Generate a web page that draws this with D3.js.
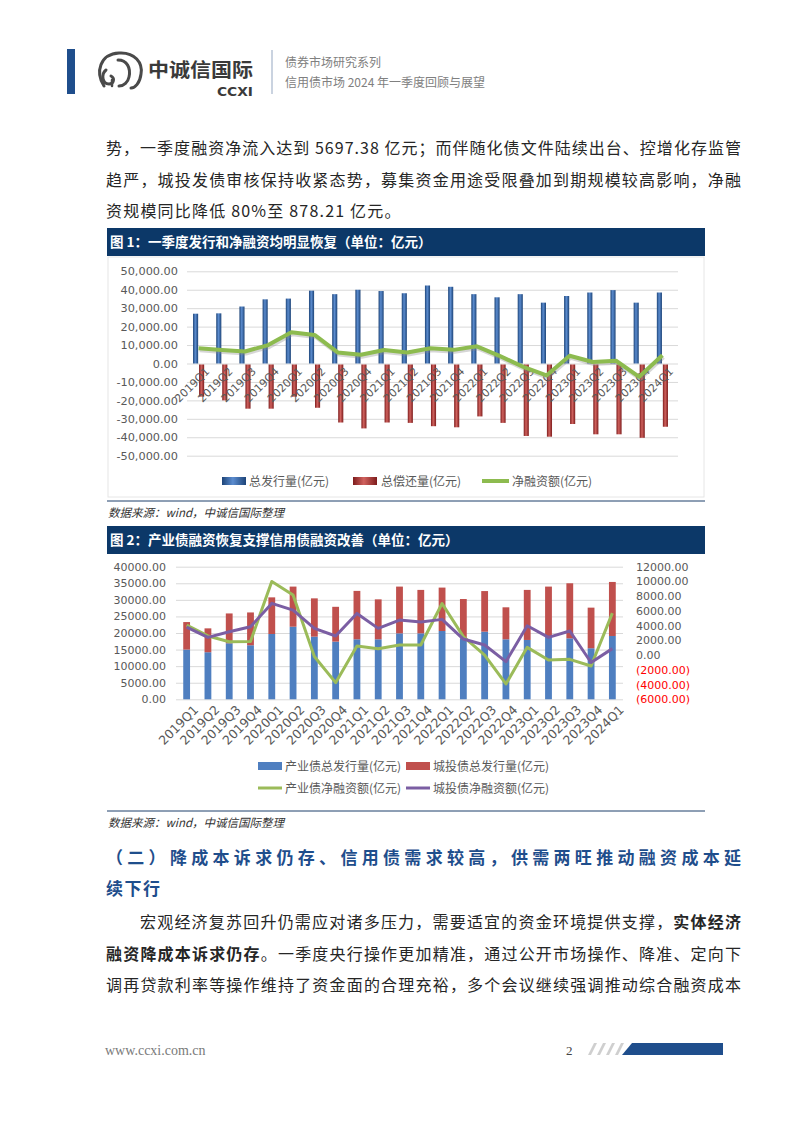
<!DOCTYPE html>
<html><head><meta charset="utf-8">
<script src="https://cdn.jsdelivr.net/npm/d3@7"></script>
<style>body{margin:0;background:#fff}svg{display:block}</style>
</head><body>
<script>
// ---------------- DATA ----------------
const quarters = ["2019Q1","2019Q2","2019Q3","2019Q4","2020Q1","2020Q2","2020Q3","2020Q4","2021Q1","2021Q2","2021Q3","2021Q4","2022Q1","2022Q2","2022Q3","2022Q4","2023Q1","2023Q2","2023Q3","2023Q4","2024Q1"];
// Chart 1
const totalIssue = [27000,27200,30900,34800,35200,39500,37600,40000,39300,38100,42300,41600,37600,35900,37600,33000,36600,38500,39800,33000,38500];
const totalRepay = [-18000,-20000,-24500,-24500,-18000,-24000,-32000,-35200,-32000,-32200,-34000,-34600,-28700,-32200,-39300,-39700,-32800,-38400,-38400,-40300,-34300];
const netFinance = [8300,7300,6500,10000,17000,15500,6000,4700,7300,6000,8300,7400,9300,4000,-1800,-6500,4200,800,1500,-7200,4500];
const chart1Ticks = [50000,40000,30000,20000,10000,0,-10000,-20000,-30000,-40000,-50000];
const chart1Legend = ["总发行量(亿元)","总偿还量(亿元)","净融资额(亿元)"];
// Chart 2
const indIssue = [15000,14200,16900,16300,19700,21900,18900,17400,18100,18100,19900,19900,20600,18400,20400,18100,17900,18900,18400,15400,19100];
const urbIssue = [8300,7200,9000,9900,11050,12100,11550,10500,14600,12050,14100,13100,13100,11850,12250,9650,15100,15100,16600,12250,16300];
const indNet = [4080,2600,1820,1860,10000,8150,-200,-3740,1230,870,1370,1370,7000,2500,0,-3920,1050,-670,-580,-1480,5697.38];
const urbNet = [3800,2400,3175,3850,7020,6100,3630,2590,5660,3630,4760,4490,4850,2180,1370,-890,3990,2410,3270,-1000,878.21];
const chart2LeftTicks = [0,5000,10000,15000,20000,25000,30000,35000,40000];
const chart2RightTicks = [-6000,-4000,-2000,0,2000,4000,6000,8000,10000,12000];
const chart2Legend = ["产业债总发行量(亿元)","城投债总发行量(亿元)","产业债净融资额(亿元)","城投债净融资额(亿元)"];

const CJK = "'Noto Sans CJK SC','Noto Sans',sans-serif";
const NUM = "'DejaVu Sans',sans-serif";

const svg = d3.select("body").append("svg").attr("width",802).attr("height",1133);
const defs = svg.append("defs");
function grad(id, edge, mid){
  const g = defs.append("linearGradient").attr("id",id).attr("x1",0).attr("x2",1).attr("y1",0).attr("y2",0);
  g.append("stop").attr("offset",0).attr("stop-color",edge);
  g.append("stop").attr("offset",0.45).attr("stop-color",mid);
  g.append("stop").attr("offset",1).attr("stop-color",edge);
}
grad("gBlue","#1d4478","#5b8ccf");
grad("gRed","#7d1c1c","#d0625e");

// ---------------- HEADER ----------------
svg.append("rect").attr("x",67).attr("y",49).attr("width",8).attr("height",45).attr("fill","#1f4e8c");
const logo = svg.append("g").attr("fill","none").attr("stroke","#4a4a4a").attr("stroke-width",3).attr("stroke-linecap","round");
logo.append("path").attr("d","M104,86 C95,72 100,54 119,53 C135,52 143,63 141,74 C140,83 135,88 131,88");
logo.append("path").attr("d","M106,70 C101,74 102,84 109,84 C114,84 115,78 111,76");
logo.append("path").attr("d","M118,60 C127,60 131,68 129,77 C128,82 124,86 119,86");
logo.append("path").attr("d","M112,86 L112,80").attr("stroke-width",2.5);
svg.append("text").attr("x",148).attr("y",77).attr("font-family",CJK).attr("font-size",19).attr("font-weight","bold")
  .attr("fill","#3a3a3a").attr("textLength",105).attr("lengthAdjust","spacingAndGlyphs").text("中诚信国际");
svg.append("text").attr("x",217).attr("y",96).attr("font-family","'DejaVu Sans',sans-serif").attr("font-size",12.5).attr("font-weight","bold")
  .attr("fill","#3a3a3a").attr("textLength",36).attr("lengthAdjust","spacingAndGlyphs").text("CCXI");
svg.append("line").attr("x1",272).attr("x2",272).attr("y1",50).attr("y2",94).attr("stroke","#b9c5d6").attr("stroke-width",1.5);
svg.append("text").attr("x",285).attr("y",67).attr("font-family",CJK).attr("font-size",12).attr("fill","#808080").text("债券市场研究系列");
svg.append("text").attr("x",285).attr("y",87).attr("font-family",CJK).attr("font-size",12).attr("fill","#808080").text("信用债市场 2024 年一季度回顾与展望");

// ---------------- BODY TEXT ----------------
function textLine(x,y,len,parts,opt={}){
  const t = svg.append("text").attr("x",x).attr("y",y).attr("font-family",CJK).attr("font-size",opt.size||16)
    .attr("fill",opt.color||"#262626");
  if(len) t.attr("textLength",len).attr("lengthAdjust","spacing");
  if(opt.bold) t.attr("font-weight","bold");
  parts.forEach(p=>{ const s=t.append("tspan").text(p[0]); if(p[1]) s.attr("font-weight","bold"); });
  return t;
}
textLine(106,154,635,[["势，一季度融资净流入达到 5697.38 亿元；而伴随化债文件陆续出台、控增化存监管"]]);
textLine(106,186,635,[["趋严，城投发债审核保持收紧态势，募集资金用途受限叠加到期规模较高影响，净融"]]);
textLine(106,217,null,[["资规模同比降低 80%至 878.21 亿元。"]]).attr("letter-spacing",1.2);

textLine(106,864,635,[["（二）降成本诉求仍存、信用债需求较高，供需两旺推动融资成本延"]],{size:17,bold:true,color:"#1f4e8c"});
textLine(106,895,null,[["续下行"]],{size:17,bold:true,color:"#1f4e8c"}).attr("letter-spacing",1.5);
textLine(140,928,601,[["宏观经济复苏回升仍需应对诸多压力，需要适宜的资金环境提供支撑，"],["实体经济",true]]);
textLine(106,960,635,[["融资降成本诉求仍存",true],["。一季度央行操作更加精准，通过公开市场操作、降准、定向下"]]);
textLine(106,991,635,[["调再贷款利率等操作维持了资金面的合理充裕，多个会议继续强调推动综合融资成本"]]);

// ---------------- FOOTER ----------------
svg.append("text").attr("x",105).attr("y",1055).attr("font-family","'Liberation Serif',serif").attr("font-size",14).attr("fill","#7a7a7a").text("www.ccxi.com.cn");
svg.append("text").attr("x",566).attr("y",1055).attr("font-family","'Liberation Serif',serif").attr("font-size",13).attr("fill","#444").text("2");
[588,597,606,615].forEach(x=>svg.append("polygon").attr("points",`${x+6},1043 ${x+9},1043 ${x+3},1055 ${x},1055`).attr("fill","#cfcfcf"));
svg.append("polygon").attr("points","632,1043 723,1043 723,1055 622,1055").attr("fill","#1f4e8c");

// ---------------- FIGURE FRAMES ----------------
function titleBar(y,txt){
  svg.append("rect").attr("x",107).attr("y",y).attr("width",598).attr("height",28).attr("fill","#0c3868");
  svg.append("text").attr("x",110).attr("y",y+19).attr("font-family",CJK).attr("font-size",13.5).attr("font-weight","bold").attr("fill","#fff").text(txt);
}
function sourceLine(y){
  svg.append("line").attr("x1",107).attr("x2",705).attr("y1",y).attr("y2",y).attr("stroke","#1c3f6b").attr("stroke-width",1);
  svg.append("text").attr("x",108).attr("y",y+16).attr("font-family",CJK).attr("font-size",11.5).attr("font-style","italic")
    .attr("fill","#333").text("数据来源：wind，中诚信国际整理");
}
titleBar(228,"图 1：一季度发行和净融资均明显恢复（单位：亿元）");
svg.append("rect").attr("x",108).attr("y",257).attr("width",596).attr("height",240).attr("fill","none").attr("stroke","#e6e6e6");
sourceLine(501);
titleBar(526,"图 2：产业债融资恢复支撑信用债融资改善（单位：亿元）");
sourceLine(811);

// ---------------- CHART 1 ----------------
const c1 = svg.append("g");
const x1 = d3.scaleBand().domain(quarters).range([187,674]).paddingInner(0.52).paddingOuter(0.26);
const xs1 = d3.scaleBand().domain(["issue","repay"]).range([0,x1.bandwidth()]).paddingInner(0.15);
const y1 = d3.scaleLinear().domain([-50000,50000]).range([455.7,271.3]);
const loc = d3.formatLocale({decimal:".",thousands:",",grouping:[3],currency:["",""],minus:"-"});
const f1 = loc.format(",.2f");
c1.append("g").attr("transform","translate(187,0)")
  .call(d3.axisLeft(y1).tickValues(chart1Ticks).tickSize(-491).tickFormat(""))
  .call(g=>{g.select(".domain").remove(); g.selectAll("line").attr("stroke","#d9d9d9");});
c1.append("g").attr("transform","translate(182,0)")
  .call(d3.axisLeft(y1).tickValues(chart1Ticks).tickSize(0).tickPadding(4).tickFormat(f1))
  .call(g=>{g.select(".domain").remove(); g.selectAll("text").attr("font-family",NUM).attr("font-size",11.3).attr("fill","#595959");});
c1.append("g").selectAll("rect").data(quarters).join("rect")
  .attr("x",(d)=>x1(d)+xs1("issue")).attr("width",xs1.bandwidth())
  .attr("y",(d,i)=>y1(totalIssue[i])).attr("height",(d,i)=>y1(0)-y1(totalIssue[i])).attr("fill","url(#gBlue)");
c1.append("g").selectAll("rect").data(quarters).join("rect")
  .attr("x",(d)=>x1(d)+xs1("repay")).attr("width",xs1.bandwidth())
  .attr("y",y1(0)+1).attr("height",(d,i)=>y1(totalRepay[i])-y1(0)-1).attr("fill","url(#gRed)");
c1.append("g").attr("transform",`translate(0,${y1(0)+3})`)
  .call(d3.axisBottom(x1).tickSize(0).tickPadding(0))
  .call(g=>{g.select(".domain").remove();
    g.selectAll("text").attr("y",0).attr("dy","0.72em").attr("text-anchor","end")
     .attr("transform","translate(6,0) rotate(-45)").attr("font-family",NUM).attr("font-size",11).attr("fill","#595959");});
const line1 = d3.line().x((d,i)=>x1(quarters[i])+x1.bandwidth()/2).y(d=>y1(d));
c1.append("path").datum(netFinance).attr("d",line1).attr("transform","translate(1,2)").attr("fill","none")
  .attr("stroke","#8a8a8a").attr("stroke-opacity",0.35).attr("stroke-width",4).attr("stroke-linejoin","round");
c1.append("path").datum(netFinance).attr("d",line1).attr("fill","none").attr("stroke","#8dbb4f").attr("stroke-width",4).attr("stroke-linejoin","round");
const lg1 = c1.append("g").attr("font-family",CJK).attr("font-size",12).attr("fill","#595959");
lg1.append("rect").attr("x",222).attr("y",477).attr("width",24).attr("height",8).attr("fill","url(#gBlue)");
lg1.append("text").attr("x",249).attr("y",486).text(chart1Legend[0]);
lg1.append("rect").attr("x",353).attr("y",477).attr("width",24).attr("height",8).attr("fill","url(#gRed)");
lg1.append("text").attr("x",381).attr("y",486).text(chart1Legend[1]);
lg1.append("line").attr("x1",482).attr("x2",509).attr("y1",481).attr("y2",481).attr("stroke","#8dbb4f").attr("stroke-width",4);
lg1.append("text").attr("x",512).attr("y",486).text(chart1Legend[2]);

// ---------------- CHART 2 ----------------
const c2 = svg.append("g");
const x2 = d3.scaleBand().domain(quarters).range([176,623]).paddingInner(0.68).paddingOuter(0.34);
const y2 = d3.scaleLinear().domain([0,40000]).range([699.3,566.7]);
const y2r = d3.scaleLinear().domain([-6000,12000]).range([699.3,566.7]);
const f2 = d3.format(".2f");
c2.append("g").attr("transform","translate(176,0)")
  .call(d3.axisLeft(y2).tickValues(chart2LeftTicks).tickSize(-447).tickFormat(""))
  .call(g=>{g.select(".domain").remove(); g.selectAll("line").attr("stroke","#d9d9d9");});
c2.append("g").attr("transform","translate(170,0)")
  .call(d3.axisLeft(y2).tickValues(chart2LeftTicks).tickSize(0).tickPadding(4).tickFormat(f2))
  .call(g=>{g.select(".domain").remove(); g.selectAll("text").attr("font-family",NUM).attr("font-size",11).attr("fill","#595959");});
c2.append("g").attr("transform","translate(632,0)")
  .call(d3.axisRight(y2r).tickValues(chart2RightTicks).tickSize(0).tickPadding(4)
    .tickFormat(v=> v<0 ? "("+f2(-v)+")" : f2(v)))
  .call(g=>{g.select(".domain").remove(); g.selectAll("text").attr("font-family",NUM).attr("font-size",11)
    .attr("fill",d=> d<0 ? "#ff0000" : "#595959");});
c2.append("g").selectAll("rect").data(quarters).join("rect")
  .attr("x",d=>x2(d)).attr("width",x2.bandwidth())
  .attr("y",(d,i)=>y2(indIssue[i])).attr("height",(d,i)=>y2(0)-y2(indIssue[i])).attr("fill","#4f7fc0");
c2.append("g").selectAll("rect").data(quarters).join("rect")
  .attr("x",d=>x2(d)).attr("width",x2.bandwidth())
  .attr("y",(d,i)=>y2(indIssue[i]+urbIssue[i])).attr("height",(d,i)=>y2(indIssue[i])-y2(indIssue[i]+urbIssue[i])).attr("fill","#c0504d");
const line2 = d3.line().x((d,i)=>x2(quarters[i])+x2.bandwidth()/2).y(d=>y2r(d));
c2.append("path").datum(indNet).attr("d",line2).attr("fill","none").attr("stroke","#9bbb59").attr("stroke-width",3).attr("stroke-linejoin","round");
c2.append("path").datum(urbNet).attr("d",line2).attr("fill","none").attr("stroke","#7b5ea3").attr("stroke-width",3).attr("stroke-linejoin","round");
c2.append("g").attr("transform",`translate(0,${y2(0)+5})`)
  .call(d3.axisBottom(x2).tickSize(0).tickPadding(0))
  .call(g=>{g.select(".domain").remove();
    g.selectAll("text").attr("y",0).attr("dy","0.72em").attr("text-anchor","end")
     .attr("transform","translate(6,0) rotate(-45)").attr("font-family",NUM).attr("font-size",12.5).attr("fill","#595959");});
const lg2 = c2.append("g").attr("font-family",CJK).attr("font-size",12).attr("fill","#595959");
lg2.append("rect").attr("x",258).attr("y",762).attr("width",24).attr("height",8).attr("fill","#4f7fc0");
lg2.append("text").attr("x",285).attr("y",771).text(chart2Legend[0]);
lg2.append("rect").attr("x",406).attr("y",762).attr("width",24).attr("height",8).attr("fill","#c0504d");
lg2.append("text").attr("x",433).attr("y",771).text(chart2Legend[1]);
lg2.append("line").attr("x1",258).attr("x2",282).attr("y1",788).attr("y2",788).attr("stroke","#9bbb59").attr("stroke-width",3);
lg2.append("text").attr("x",285).attr("y",793).text(chart2Legend[2]);
lg2.append("line").attr("x1",406).attr("x2",430).attr("y1",788).attr("y2",788).attr("stroke","#7b5ea3").attr("stroke-width",3);
lg2.append("text").attr("x",433).attr("y",793).text(chart2Legend[3]);
</script>
</body></html>
